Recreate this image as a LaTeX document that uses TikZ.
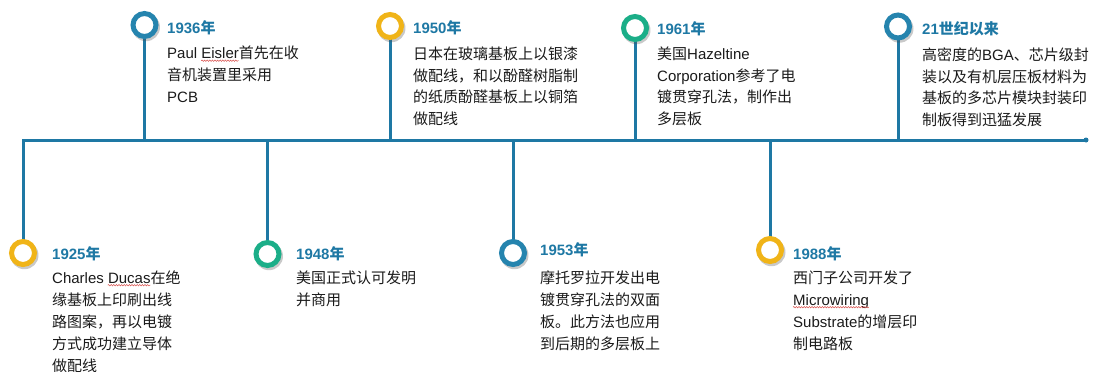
\documentclass[tikz,border=0pt]{standalone}
\usepackage{fontspec}
\setmainfont{Liberation Sans}
\newfontfamily\cjk{Noto Sans CJK SC}
\usetikzlibrary{decorations.pathmorphing,shadows}
\definecolor{tblue}{HTML}{1E78A4}
\definecolor{rblue}{HTML}{2584AE}
\definecolor{tyellow}{HTML}{F0B418}
\definecolor{tgreen}{HTML}{1BAE88}
\definecolor{ttext}{HTML}{1A1A1A}
\definecolor{squig}{HTML}{D9534F}
\newcommand\zh[1]{{\cjk #1}}
\pgfdeclarelayer{bg}
\pgfsetlayers{bg,main}
\begin{document}
\begin{tikzpicture}[x=1pt,y=-1pt,
  axis/.style={draw=tblue, line width=3pt},
  ring/.style={circle, draw=#1, line width=5pt, fill=white, minimum size=23pt, inner sep=0pt,
     drop shadow={shadow xshift=1.2pt, shadow yshift=-1.8pt, shadow scale=1.22, opacity=.3, fill=black!70}},
  yr/.style={anchor=base west, inner sep=0pt, text=tblue, font=\fontsize{15}{22}\selectfont\bfseries},
  bd/.style={anchor=base west, inner sep=0pt, text=ttext, font=\fontsize{15}{22}\selectfont},
  sq/.style={draw=squig, line width=0.5pt, decorate, decoration={snake, amplitude=0.7pt, segment length=2.6pt}}
]
\useasboundingbox (0,0) rectangle (1093,372);

% rings
\node[ring=rblue]   (r36) at (144.5,25) {};
\node[ring=tyellow] (r50) at (390,26) {};
\node[ring=tgreen]  (r61) at (635,28) {};
\node[ring=rblue]   (r21) at (898,26.5) {};
\node[ring=tyellow] (r25) at (23,253) {};
\node[ring=tgreen]  (r48) at (267.5,254) {};
\node[ring=rblue]   (r53) at (513,253) {};
\node[ring=tyellow] (r88) at (770,250) {};

\coordinate (R) at (1086,140);
\node[circle, fill=tblue, minimum size=5pt, inner sep=0pt] (end) at (R) {};

\begin{pgfonlayer}{bg}
  \draw[axis] (r25.center) |- (R);
  \foreach \r in {r36,r50,r61,r21,r48,r53,r88}
    \draw[axis] (\r.center) -- (\r.center |- R);
\end{pgfonlayer}

% 1936
\node[yr] (y36) at (167,33) {1936\zh{年}};
\node[bd] (a36) at (167,58.5) {Paul Eisler\zh{首先在收}};
\node[bd] (b36) at (167,80.5) {\zh{音机装置里采用}};
\node[bd] (c36) at (167,102) {PCB};
\draw[sq] ([xshift=34.2pt,yshift=-2.2pt]a36.base west) -- ++(37.5,0);

% 1950
\node[yr] (y50) at (413,33.5) {1950\zh{年}};
\node[bd] (a50) at (413,59) {\zh{日本在玻璃基板上以银漆}};
\node[bd] (b50) at (413,81) {\zh{做配线，和以酚醛树脂制}};
\node[bd] (c50) at (413,102.5) {\zh{的纸质酚醛基板上以铜箔}};
\node[bd] (d50) at (413,124) {\zh{做配线}};

% 1961
\node[yr] (y61) at (657,34.5) {1961\zh{年}};
\node[bd] (a61) at (657,59.5) {\zh{美国}Hazeltine};
\node[bd] (b61) at (657,81) {Corporation\zh{参考了电}};
\node[bd] (c61) at (657,102.5) {\zh{镀贯穿孔法，制作出}};
\node[bd] (d61) at (657,124) {\zh{多层板}};

% 21st century
\node[yr] (y21) at (922,34.5) {21\zh{世纪以来}};
\node[bd] (a21) at (922,60) {\zh{高密度的}BGA\zh{、芯片级封}};
\node[bd] (b21) at (922,82) {\zh{装以及有机层压板材料为}};
\node[bd] (c21) at (922,103) {\zh{基板的多芯片模块封装印}};
\node[bd] (d21) at (922,125) {\zh{制板得到迅猛发展}};

% 1925
\node[yr] (y25) at (52,259.5) {1925\zh{年}};
\node[bd] (a25) at (52,283) {Charles Ducas\zh{在绝}};
\node[bd] (b25) at (52,305) {\zh{缘基板上印刷出线}};
\node[bd] (c25) at (52,327) {\zh{路图案，再以电镀}};
\node[bd] (d25) at (52,349) {\zh{方式成功建立导体}};
\node[bd] (e25) at (52,371) {\zh{做配线}};
\draw[sq] ([xshift=55.8pt,yshift=-2.2pt]a25.base west) -- ++(42.5,0);

% 1948
\node[yr] (y48) at (296,259.5) {1948\zh{年}};
\node[bd] (a48) at (296,283) {\zh{美国正式认可发明}};
\node[bd] (b48) at (296,305) {\zh{并商用}};

% 1953
\node[yr] (y53) at (540,255.5) {1953\zh{年}};
\node[bd] (a53) at (540,283) {\zh{摩托罗拉开发出电}};
\node[bd] (b53) at (540,305) {\zh{镀贯穿孔法的双面}};
\node[bd] (c53) at (540,327) {\zh{板。此方法也应用}};
\node[bd] (d53) at (540,349) {\zh{到后期的多层板上}};

% 1988
\node[yr] (y88) at (793,259.5) {1988\zh{年}};
\node[bd] (a88) at (793,283) {\zh{西门子公司开发了}};
\node[bd] (b88) at (793,305) {Microwiring};
\node[bd] (c88) at (793,327) {Substrate\zh{的增层印}};
\node[bd] (d88) at (793,349) {\zh{制电路板}};
\draw[sq] ([yshift=-2.2pt]b88.base west) -- ++(75.8,0);
\end{tikzpicture}
\end{document}
